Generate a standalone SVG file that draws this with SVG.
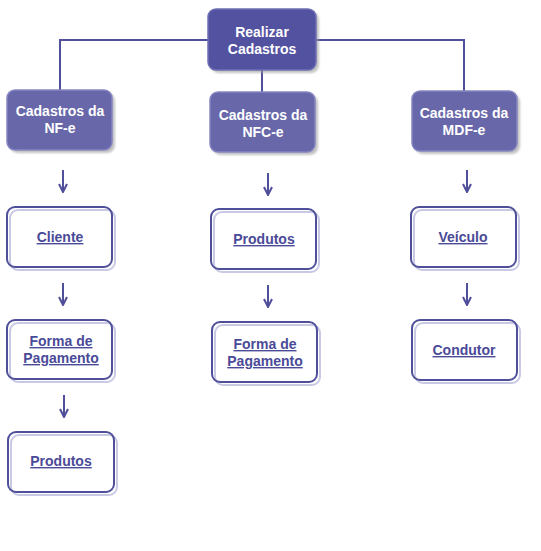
<svg xmlns="http://www.w3.org/2000/svg" width="541" height="551" viewBox="0 0 541 551">
<defs>
<marker id="arr" viewBox="0 0 10 10" refX="9" refY="5" markerWidth="10" markerHeight="10" markerUnits="userSpaceOnUse" orient="auto">
<path d="M1,1 L9,5 L1,9" fill="none" stroke="#4f4f9a" stroke-width="2"/>
</marker>
<filter id="sh" x="-10%" y="-10%" width="130%" height="130%">
<feGaussianBlur stdDeviation="1"/>
</filter>
</defs>
<style>
.line{fill:none;stroke:#4f4f9a;stroke-width:2}
.arrow{fill:none;stroke:#4f4f9a;stroke-width:2;marker-end:url(#arr)}
.shadow{fill:#9a9a9a;opacity:0.6;filter:url(#sh)}
.top{fill:#5352a0;stroke:#6f6fb5;stroke-width:1.5}
.mid{fill:#6767a9;stroke:#8686c2;stroke-width:1.5}
.wsh{fill:none;stroke:#c9c9e4;stroke-width:2}
.wb{fill:none;stroke:#4f4f9a;stroke-width:2}
.tw{font-family:"Liberation Sans",Arial,sans-serif;font-size:14px;font-weight:bold;fill:#ffffff;text-anchor:middle}
.tl{font-family:"Liberation Sans",Arial,sans-serif;font-size:14px;font-weight:bold;fill:#4a4a98;text-anchor:middle;text-decoration:underline}
</style>
<rect width="541" height="551" fill="#ffffff"/>
<g id="connectors">
<path class="line" d="M60,90 V40 H464 V91"/>
<path class="line" d="M262,70 V92"/>
<path class="arrow" d="M63,170 V192"/>
<path class="arrow" d="M63,283 V305"/>
<path class="arrow" d="M64,395 V417"/>
<path class="arrow" d="M268,173 V195"/>
<path class="arrow" d="M268,285 V307"/>
<path class="arrow" d="M467,170 V192"/>
<path class="arrow" d="M467,283 V305"/>
</g>
<g id="realizar">
<rect class="shadow" x="211" y="12" width="108" height="61" rx="8"/>
<rect class="top" x="208" y="9" width="108" height="61" rx="8"/>
<text class="tw" x="262" y="37">Realizar</text>
<text class="tw" x="262" y="54">Cadastros</text>
</g>
<g id="nfe">
<rect class="shadow" x="10" y="93" width="105" height="60" rx="8"/>
<rect class="mid" x="7" y="90" width="105" height="60" rx="8"/>
<text class="tw" x="60" y="116">Cadastros da</text>
<text class="tw" x="60" y="133">NF-e</text>
</g>
<g id="nfce">
<rect class="shadow" x="213" y="95" width="105" height="60" rx="8"/>
<rect class="mid" x="210" y="92" width="105" height="60" rx="8"/>
<text class="tw" x="263" y="120">Cadastros da</text>
<text class="tw" x="263" y="137">NFC-e</text>
</g>
<g id="mdfe">
<rect class="shadow" x="415" y="94" width="105" height="60" rx="8"/>
<rect class="mid" x="412" y="91" width="105" height="60" rx="8"/>
<text class="tw" x="464" y="118">Cadastros da</text>
<text class="tw" x="464" y="135">MDF-e</text>
</g>
<g id="cliente">
<rect class="wsh" x="10" y="210" width="105" height="60" rx="8"/>
<rect class="wb" x="7" y="207" width="105" height="60" rx="8"/>
<text class="tl" x="60" y="242">Cliente</text>
</g>
<g id="forma1">
<rect class="wsh" x="10" y="323" width="105" height="59" rx="8"/>
<rect class="wb" x="7" y="320" width="105" height="59" rx="8"/>
<text class="tl" x="61" y="346">Forma de</text>
<text class="tl" x="61" y="363">Pagamento</text>
</g>
<g id="produtos1">
<rect class="wsh" x="11" y="435" width="106" height="60" rx="8"/>
<rect class="wb" x="8" y="432" width="106" height="60" rx="8"/>
<text class="tl" x="61" y="466">Produtos</text>
</g>
<g id="produtos2">
<rect class="wsh" x="214" y="212" width="105" height="60" rx="8"/>
<rect class="wb" x="211" y="209" width="105" height="60" rx="8"/>
<text class="tl" x="264" y="244">Produtos</text>
</g>
<g id="forma2">
<rect class="wsh" x="215" y="325" width="105" height="60" rx="8"/>
<rect class="wb" x="212" y="322" width="105" height="60" rx="8"/>
<text class="tl" x="265" y="349">Forma de</text>
<text class="tl" x="265" y="366">Pagamento</text>
</g>
<g id="veiculo">
<rect class="wsh" x="414" y="210" width="105" height="60" rx="8"/>
<rect class="wb" x="411" y="207" width="105" height="60" rx="8"/>
<text class="tl" x="463" y="242">Veículo</text>
</g>
<g id="condutor">
<rect class="wsh" x="415" y="323" width="105" height="60" rx="8"/>
<rect class="wb" x="412" y="320" width="105" height="60" rx="8"/>
<text class="tl" x="464" y="355">Condutor</text>
</g>
</svg>
